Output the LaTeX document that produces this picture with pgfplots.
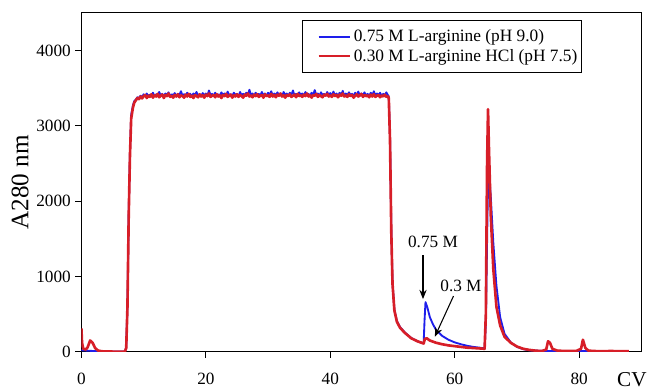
\documentclass[border=0pt]{standalone}
\usepackage{fontspec}
\setmainfont{Liberation Serif}
\usepackage{pgfplots}
\pgfplotsset{compat=1.18}
\usetikzlibrary{arrows.meta}
\definecolor{cblue}{RGB}{30,30,235}
\definecolor{cred}{RGB}{215,30,40}
\begin{document}
\begin{tikzpicture}
\begin{axis}[
  scale only axis,
  width=423pt, height=256pt,
  xmin=0, xmax=90, ymin=0, ymax=4500,
  xtick={0,20,40,60,80}, ytick={0,1000,2000,3000,4000},
  tick align=outside, xtick pos=bottom, ytick pos=left,
  major tick length=4.5pt,
  /pgf/number format/assume math mode=true,
  scaled ticks=false,
  yticklabel style={/pgf/number format/1000 sep={}},
  xticklabel style={yshift=-8pt},
  ticklabel style={font=\fontsize{13}{15}\selectfont},
  tick style={black, line width=0.6pt},
  axis line style={line width=0.8pt},
  ylabel={A280 nm},
  ylabel style={font=\fontsize{19}{21}\selectfont, yshift=-1pt},
  xlabel={CV},
  xlabel style={font=\fontsize{16}{18}\selectfont, at={(axis description cs:0.983,0)}, anchor=north, yshift=-12pt},
  legend style={at={(axis description cs:0.8936,0.9795)}, anchor=north east, draw=black, line width=0.6pt,
    font=\fontsize{13.1}{15}\selectfont, inner xsep=1pt, inner ysep=5.25pt, row sep=0pt,
    cells={anchor=west, inner xsep=1pt, inner ysep=1.1pt}},
  legend image code/.code={\fill[white] (0pt,-0.5pt) rectangle (1pt,0.5pt); \draw[line width=1.3pt] (10.5pt,0pt) -- (34.5pt,0pt);},
  every axis plot/.append style={line join=round},
]
\addplot[cblue, line width=1.4pt] coordinates {
(0,20)(1,15)(2,10)(3,5)(5,3)(6.9,3)(7.0,5)(7.2,60)(7.4,620)(7.6,1850)(7.8,2650)(8.0,3150)(8.3,3280)(8.5,3330)
(8.75,3350)(9.0,3380)(9.25,3370)(9.5,3400)(9.75,3380)(10.0,3420)(10.25,3395)(10.5,3430)(10.75,3390)(11.0,3415)
(11.25,3400)(11.5,3440)(11.75,3395)(12.0,3420)(12.25,3405)(12.5,3450)(12.75,3400)(13.0,3425)(13.25,3390)(13.5,3430)
(13.75,3410)(14.0,3445)(14.25,3395)(14.5,3420)(14.75,3405)(15.0,3435)(15.25,3390)(15.5,3425)(15.75,3410)(16.0,3460)
(16.25,3400)(16.5,3420)(16.75,3395)(17.0,3440)(17.25,3405)(17.5,3425)(17.75,3390)(18.0,3430)(18.25,3410)(18.5,3450)
(18.75,3400)(19.0,3420)(19.25,3395)(19.5,3435)(19.75,3405)(20.0,3430)(20.25,3400)(20.5,3470)(20.75,3410)(21.0,3425)
(21.25,3395)(21.5,3440)(21.75,3405)(22.0,3420)(22.25,3400)(22.5,3445)(22.75,3410)(23.0,3430)(23.25,3395)(23.5,3455)
(23.75,3405)(24.0,3420)(24.25,3400)(24.5,3440)(24.75,3410)(25.0,3425)(25.25,3390)(25.5,3450)(25.75,3405)(26.0,3425)
(26.25,3400)(26.5,3440)(26.75,3410)(27.0,3480)(27.25,3405)(27.5,3430)(27.75,3395)(28.0,3440)(28.25,3410)(28.5,3425)
(28.75,3400)(29.0,3450)(29.25,3405)(29.5,3430)(29.75,3395)(30.0,3440)(30.25,3410)(30.5,3460)(30.75,3400)(31.0,3430)
(31.25,3405)(31.5,3445)(31.75,3410)(32.0,3425)(32.25,3395)(32.5,3450)(32.75,3405)(33.0,3430)(33.25,3400)(33.5,3440)
(33.75,3410)(34.0,3470)(34.25,3400)(34.5,3425)(34.75,3405)(35.0,3445)(35.25,3410)(35.5,3430)(35.75,3395)(36.0,3450)
(36.25,3405)(36.5,3425)(36.75,3400)(37.0,3440)(37.25,3410)(37.5,3475)(37.75,3405)(38.0,3430)(38.25,3395)(38.5,3445)
(38.75,3410)(39.0,3425)(39.25,3400)(39.5,3450)(39.75,3410)(40.0,3435)(40.25,3400)(40.5,3455)(40.75,3405)(41.0,3430)
(41.25,3395)(41.5,3440)(41.75,3410)(42.0,3465)(42.25,3400)(42.5,3430)(42.75,3405)(43.0,3445)(43.25,3410)(43.5,3425)
(43.75,3395)(44.0,3440)(44.25,3405)(44.5,3455)(44.75,3400)(45.0,3430)(45.25,3410)(45.5,3445)(45.75,3400)(46.0,3425)
(46.25,3395)(46.5,3440)(46.75,3405)(47.0,3460)(47.25,3400)(47.5,3430)(47.75,3410)(48.0,3440)(48.25,3395)(48.5,3425)
(48.75,3405)(49.0,3445)(49.25,3410)(49.4,3390)
(49.6,2850)(49.8,1650)(50.0,920)(50.3,560)(50.7,410)
(51.2,330)(52,255)(53,185)(54,140)(55,112)(55.15,420)(55.3,660)(55.6,590)(56,460)(56.5,365)(57,290)(58,210)
(59,160)(60,125)(61,100)(62,80)(63,65)(64,55)(64.8,45)(65.0,380)(65.3,2000)(65.5,2400)(65.8,2050)(66.2,1450)
(66.7,880)(67.3,460)(68,240)(69,125)(70,65)(71,35)(72,20)(74,12)(76,10)(78,10)(80,12)(82,10)
};
\addlegendentry{0.75 M L-arginine (pH 9.0)}
\addplot[cred, line width=2pt] coordinates {
(0,310)(0.1,120)(0.3,40)(0.7,30)(1.0,60)(1.4,150)(1.8,120)(2.2,50)(2.7,15)(3.5,5)(5,3)(6.9,3)
(7.0,5)(7.2,50)(7.4,600)(7.6,1800)(7.8,2600)(8.0,3100)(8.3,3250)(8.5,3310)
(8.75,3340)(9.0,3370)(9.25,3355)(9.5,3390)(9.75,3365)(10.0,3395)(10.25,3410)(10.5,3370)(10.75,3400)(11.0,3385)
(11.25,3420)(11.5,3375)(11.75,3405)(12.0,3390)(12.25,3425)(12.5,3380)(12.75,3400)(13.0,3415)(13.25,3370)(13.5,3410)
(13.75,3395)(14.0,3430)(14.25,3385)(14.5,3400)(14.75,3375)(15.0,3410)(15.25,3390)(15.5,3420)(15.75,3380)(16.0,3405)
(16.25,3395)(16.5,3375)(16.75,3415)(17.0,3390)(17.25,3425)(17.5,3385)(17.75,3400)(18.0,3370)(18.25,3410)(18.5,3395)
(18.75,3380)(19.0,3420)(19.25,3390)(19.5,3405)(19.75,3375)(20.0,3415)(20.25,3395)(20.5,3430)(20.75,3385)(21.0,3400)
(21.25,3410)(21.5,3380)(21.75,3420)(22.0,3390)(22.25,3405)(22.5,3370)(22.75,3410)(23.0,3395)(23.25,3425)(23.5,3385)
(23.75,3400)(24.0,3415)(24.25,3375)(24.5,3405)(24.75,3390)(25.0,3420)(25.25,3385)(25.5,3410)(25.75,3395)(26.0,3375)
(26.25,3415)(26.5,3400)(26.75,3430)(27.0,3390)(27.25,3405)(27.5,3380)(27.75,3415)(28.0,3395)(28.25,3420)(28.5,3385)
(28.75,3400)(29.0,3410)(29.25,3375)(29.5,3420)(29.75,3395)(30.0,3405)(30.25,3385)(30.5,3425)(30.75,3390)(31.0,3410)
(31.25,3380)(31.5,3415)(31.75,3400)(32.0,3430)(32.25,3390)(32.5,3405)(32.75,3375)(33.0,3410)(33.25,3395)(33.5,3420)
(33.75,3385)(34.0,3400)(34.25,3415)(34.5,3380)(34.75,3425)(35.0,3395)(35.25,3405)(35.5,3385)(35.75,3415)(36.0,3395)
(36.25,3430)(36.5,3390)(36.75,3405)(37.0,3375)(37.25,3410)(37.5,3400)(37.75,3425)(38.0,3385)(38.25,3410)(38.5,3395)
(38.75,3380)(39.0,3415)(39.25,3400)(39.5,3425)(39.75,3390)(40.0,3405)(40.25,3385)(40.5,3420)(40.75,3395)(41.0,3410)
(41.25,3380)(41.5,3415)(41.75,3400)(42.0,3430)(42.25,3390)(42.5,3405)(42.75,3385)(43.0,3420)(43.25,3395)(43.5,3410)
(43.75,3375)(44.0,3400)(44.25,3420)(44.5,3390)(44.75,3405)(45.0,3425)(45.25,3385)(45.5,3410)(45.75,3395)(46.0,3405)
(46.25,3380)(46.5,3415)(46.75,3390)(47.0,3420)(47.25,3385)(47.5,3400)(47.75,3410)(48.0,3380)(48.25,3405)(48.5,3390)
(48.75,3415)(49.0,3385)(49.25,3395)(49.4,3370)
(49.6,2800)(49.8,1600)(50.0,900)(50.3,550)(50.7,400)
(51.2,320)(52,250)(53,180)(54,140)(55,110)(55.2,170)(55.5,180)(56,150)(57,120)(58,100)(59,85)(60,75)
(61,65)(62,55)(63,50)(64,45)(64.8,40)(65.0,500)(65.2,2500)(65.35,3220)(65.5,2700)(65.8,1800)(66.2,1100)
(66.7,600)(67.3,350)(68,200)(69,120)(70,70)(71,40)(72,25)(73,15)(74,10)(74.7,30)(75,140)(75.3,120)(75.7,40)
(76.5,15)(78,10)(79.5,10)(80.3,40)(80.6,160)(81,50)(81.5,15)(83,8)(85,10)(88,8)
};
\addlegendentry{0.30 M L-arginine HCl (pH 7.5)}
\node[font=\fontsize{13}{15}\selectfont] at (axis cs:56.5,1465) {0.75 M};
\draw[-{Stealth[length=7pt,width=5.5pt]}, line width=0.8pt] (axis cs:54.9,1280) -- (axis cs:54.9,700);
\node[font=\fontsize{13}{15}\selectfont] at (axis cs:61,880) {0.3 M};
\draw[-{Stealth[length=7pt,width=5.5pt]}, line width=0.8pt] (axis cs:59.8,740) -- (axis cs:56.8,200);
\end{axis}
\path ([xshift=-61.5pt,yshift=-26pt]current axis.south west) rectangle ([xshift=3.75pt,yshift=9.75pt]current axis.north east);
\end{tikzpicture}
\end{document}
